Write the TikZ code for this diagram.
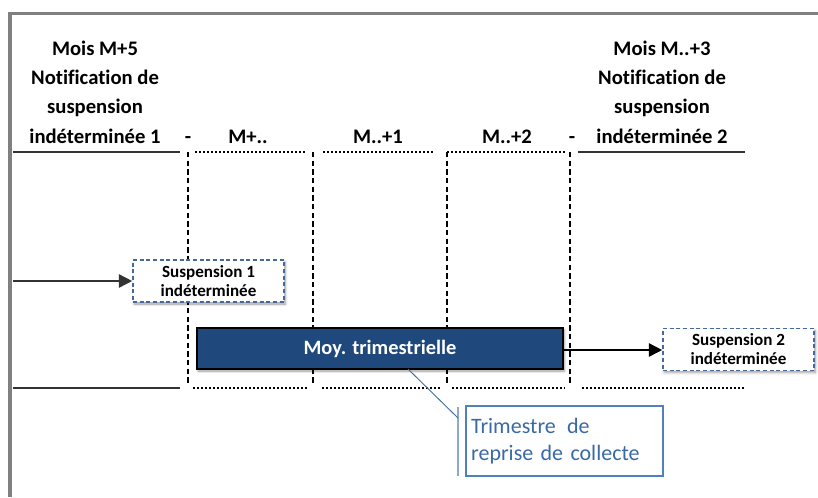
\documentclass[tikz,border=0pt]{standalone}
\usepackage{fontspec}
\setmainfont{Carlito}[Ligatures=NoCommon]
\usetikzlibrary{shadows.blur,arrows.meta}
\definecolor{framegray}{HTML}{808080}
\definecolor{navy}{HTML}{1F497D}
\definecolor{boxblue}{HTML}{46689A}
\definecolor{callblue}{HTML}{4F81BD}
\definecolor{calltext}{HTML}{3A6AA6}
\definecolor{barblue}{HTML}{8EA9D0}
\definecolor{rulegray}{HTML}{333333}
\tikzset{
  hdr/.style={font=\bfseries\fontsize{15.5}{22}\selectfont, align=center, inner sep=0pt, anchor=base},
  coltitle/.style={font=\bfseries\fontsize{15.5}{22}\selectfont, inner sep=0pt, anchor=base},
  solidrule/.style={draw=rulegray, line width=1.5pt},
  dotrule/.style={draw=black, line width=1pt, dash pattern=on 1.5pt off 1.5pt},
  colsep/.style={draw=black, line width=0.9pt, dash pattern=on 4pt off 2.5pt},
  suspbox/.style={draw=boxblue, line width=1.2pt, dash pattern=on 3pt off 2pt, fill=white,
    minimum width=113.25pt, minimum height=31.5pt, inner sep=0pt, align=center,
    font=\bfseries\fontsize{12.8}{14.3}\selectfont,
    blur shadow={shadow xshift=1pt, shadow yshift=-1.5pt, shadow blur radius=2pt, shadow opacity=40}},
  quarterbox/.style={draw=black, line width=1.3pt, fill=navy, text=white,
    minimum width=274.5pt, minimum height=30.75pt, inner sep=0pt,
    font=\bfseries\fontsize{15.3}{18}\selectfont,
    blur shadow={shadow xshift=1pt, shadow yshift=-1.5pt, shadow blur radius=2pt, shadow opacity=40}},
  calloutbox/.style={draw=callblue, line width=1pt, fill=white, text=calltext,
    minimum width=147.75pt, minimum height=52.5pt, inner sep=0pt,
    text width=140pt, align=left,
    font=\fontsize{16.5}{19.8}\selectfont},
  flow/.style={line width=1.2pt, -{Triangle[length=10pt, width=10pt]}}
}
\begin{document}
\begin{tikzpicture}[x=0.75pt, y=-0.75pt]
\useasboundingbox (0,0) rectangle (818,497);

% outer frame (runs off the right and bottom edges)
\draw[framegray, line width=2.8pt] (10,497) -- (10,13.5) -- (818,13.5);

% header texts (anchored on the baseline of their last line)
\node[hdr] (notif1) at (95,143) {Mois M+5\\Notification de\\suspension\\indéterminée 1};
\node[hdr] (notif2) at (662,143) {Mois M..+3\\Notification de\\suspension\\indéterminée 2};
\node[coltitle] (dash1) at (188,143) {-};
\node[coltitle] (mA) at (248,143) {M+..};
\node[coltitle] (mB) at (378,143) {M..+1};
\node[coltitle] (mC) at (507,143) {M..+2};
\node[coltitle] (dash2) at (572,143) {-};

% header rules
\draw[solidrule] (13,152) -- (180,152);
\draw[dotrule] (195,152) -- (307,152);
\draw[dotrule] (323,152) -- (433,152);
\draw[dotrule] (447,152) -- (567,152);
\draw[solidrule] (578,152) -- (745,152);

% bottom rules
\draw[solidrule] (13,388) -- (180,388);
\draw[dotrule] (193,388) -- (307,388);
\draw[dotrule] (322,388) -- (440,388);
\draw[dotrule] (452,388) -- (565,388);
\draw[dotrule] (582,388) -- (745,388);

% month separators
\foreach \xx in {188,313,447,570}
  \draw[colsep] (\xx,152) -- (\xx,383);

% boxes
\node[suspbox] (susp1) at (208.5,281) {Suspension 1\\indéterminée};
\node[quarterbox] (quarter) at (380,348.5) {Moy. trimestrielle};
\node[suspbox] (susp2) at (738.5,349.5) {Suspension 2\\indéterminée};

% arrows
\coordinate (start) at (13,281);
\draw[flow, draw=rulegray, fill=black] (start) -- (susp1.west);
\draw[flow] (quarter.east |- 0,350) -- (susp2.west |- 0,350);

% callout
\node[calloutbox] (callout) at (564.5,441) {Trimestre\hspace{3pt} de\\reprise de collecte};
\coordinate (bartop) at (458,407);
\coordinate (barbot) at (458,476);
\coordinate (tail) at (408,369);
\draw[barblue, line width=1.5pt] (bartop) -- (barbot);
\draw[callblue!85!black, line width=0.7pt] (tail) -- (458,418);
\end{tikzpicture}
\end{document}
